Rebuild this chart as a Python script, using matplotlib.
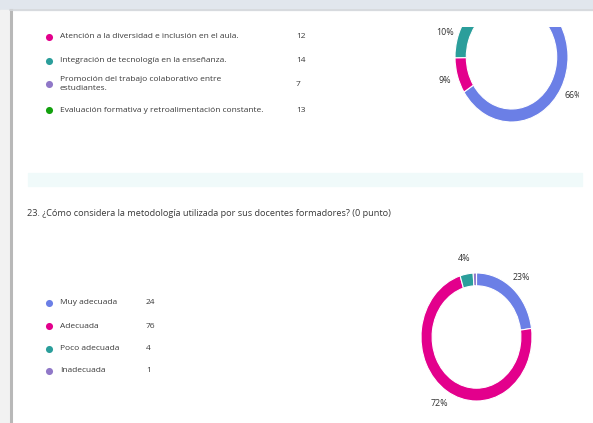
import matplotlib
matplotlib.use('Agg')
import matplotlib.pyplot as plt
from matplotlib.patches import Rectangle

W, H = 593, 423

# ---- Question 22 (only the lower part is visible in the screenshot) ----
q22_labels = ["Atención a la diversidad e inclusión en el aula.",
              "Integración de tecnología en la enseñanza.",
              "Promoción del trabajo colaborativo entre\nestudiantes.",
              "Evaluación formativa y retroalimentación constante."]
q22_counts = [12, 14, 7, 13]
q22_colors = ["#E3008C", "#2B9E9B", "#9078C8", "#13A10E"]
q22_first_count = 89          # first option (legend row cut off), shown as 66%
q22_first_color = "#6B7FE6"

# ---- Question 23 ----
q23_title = "23. ¿Cómo considera la metodología utilizada por sus docentes formadores? (0 punto)"
q23_labels = ["Muy adecuada", "Adecuada", "Poco adecuada", "Inadecuada"]
q23_counts = [24, 76, 4, 1]
q23_colors = ["#6B7FE6", "#E3008C", "#2B9E9B", "#9078C8"]

FAM = ['Open Sans', 'DejaVu Sans']
TXT = '#3a3a3a'

fig = plt.figure(figsize=(W / 100, H / 100), dpi=100)
bg = fig.add_axes([0, 0, 1, 1])
bg.set_xlim(0, W)
bg.set_ylim(H, 0)
bg.axis('off')

# screenshot frame
bg.add_patch(Rectangle((0, 0), W, H, color='white', zorder=0))
bg.add_patch(Rectangle((0, 0), W, 10, color='#e1e6ed', zorder=1))
bg.add_patch(Rectangle((0, 10), 9, H - 10, color='#f2f2f2', zorder=1))
bg.plot([10.5, 10.5], [10, H], color='#b8b8b8', lw=2.2, zorder=2)
bg.plot([10, W], [10.5, 10.5], color='#d5d8dc', lw=1.2, zorder=2)
bg.add_patch(Rectangle((28, 173), 554, 13, color='#f0fafa', zorder=1))

# legend of question 22
ys22 = [37, 61, 84, 110]
for lab, cnt, col, y in zip(q22_labels, q22_counts, q22_colors, ys22):
    bg.scatter([49], [y], s=26, color=col, zorder=3, linewidths=0)
    bg.text(60, y, lab, va='center', ha='left', fontsize=6.0, family=FAM,
            color=TXT, linespacing=1.3)
    bg.text(296, y, str(cnt), va='center', ha='left', fontsize=6.0,
            family=FAM, color=TXT)

# title of question 23
bg.text(27, 213, q23_title, va='center', ha='left', fontsize=6.6,
        family=FAM, color=TXT)

# legend of question 23
ys23 = [303, 326, 349, 371]
for lab, cnt, col, y in zip(q23_labels, q23_counts, q23_colors, ys23):
    bg.scatter([49], [y], s=26, color=col, zorder=3, linewidths=0)
    bg.text(60, y, lab, va='center', ha='left', fontsize=6.0, family=FAM,
            color=TXT)
    bg.text(146, y, str(cnt), va='center', ha='left', fontsize=6.0,
            family=FAM, color=TXT)


def donut(counts, colors, box, ylim=(-1, 1)):
    x0, y0, x1, y1 = box
    ax = fig.add_axes([x0 / W, 1 - y1 / H, (x1 - x0) / W, (y1 - y0) / H])
    wedges, texts, autotexts = ax.pie(
        counts, colors=colors, startangle=90, counterclock=False,
        wedgeprops=dict(width=0.2, edgecolor='white', linewidth=0.8),
        autopct=lambda p: f"{p:.0f}%" if p >= 2 else "", pctdistance=1.24,
        textprops=dict(fontsize=6.4, family=FAM, color='#333333'))
    ax.set_xlim(-1, 1)
    ax.set_ylim(*ylim)
    ax.set_aspect('auto')
    ax.axis('off')
    return ax, wedges, autotexts


# top donut (cut by the top of the card)
top_counts = [q22_first_count] + q22_counts
top_colors = [q22_first_color] + q22_colors
top_ylim = (-1, 0.4615)
ax1, w1, at1 = donut(top_counts, top_colors, (455, 27, 568, 122), ylim=top_ylim)
clip_rect = Rectangle((0, 27), 579, H - 27, transform=bg.transData)
for a in list(w1) + list(at1):
    a.set_clip_on(True)
    a.set_clip_path(clip_rect)
for t in at1:
    # labels lying above the visible part of the card are cut away entirely
    if t.get_position()[1] > top_ylim[1]:
        t.set_visible(False)

# bottom donut
ax2, w2, at2 = donut(q23_counts, q23_colors, (421, 273, 532, 401))

fig.savefig('out.png', dpi=100)
